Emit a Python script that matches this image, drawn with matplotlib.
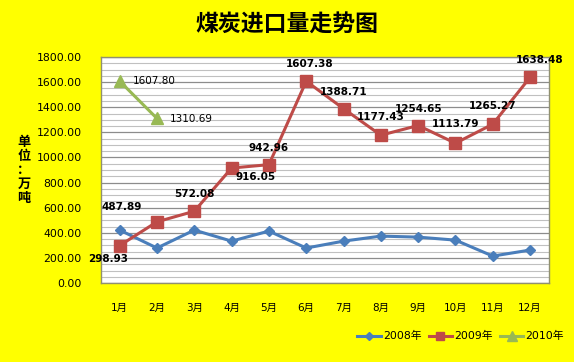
import matplotlib.pyplot as plt
import numpy as np

plt.rcParams['font.family'] = ['DejaVu Sans', 'Noto Sans CJK SC']

months = ['1月', '2月', '3月', '4月', '5月', '6月', '7月', '8月', '9月', '10月', '11月', '12月']
y2008 = [422, 279, 422, 334, 414, 279, 334, 374, 366, 342, 215, 263]
y2009 = [298.93, 487.89, 572.08, 916.05, 942.96, 1607.38, 1388.71, 1177.43,
         1254.65, 1113.79, 1265.27, 1638.48]
y2010 = [1607.80, 1310.69]

# label offsets in pixels (dx, dy) relative to the point
off2009 = [(-12, -13), (-35, 15), (0, 17), (24, -9), (0, 17), (3, 17),
           (0, 17), (0, 18), (0, 17), (0, 19), (0, 18), (10, 17)]
off2010 = [(35, 0), (34, -1)]

x = np.arange(1, 13)

fig = plt.figure(figsize=(5.74, 3.62), dpi=100, facecolor='#FFFF00')
ax = fig.add_axes([0.176, 0.218, 0.78, 0.6245])
ax.set_facecolor('white')

ax.plot(x, y2008, color='#4A7EBB', lw=2.2, marker='D', ms=5.5, label='2008年', zorder=3)
ax.plot(x, y2009, color='#BE4B48', lw=2.2, marker='s', ms=8, label='2009年', zorder=3)
ax.plot(x[:2], y2010, color='#98B954', lw=2.2, marker='^', ms=8.5, label='2010年', zorder=3)

for xi, v, (dx, dy) in zip(x, y2009, off2009):
    ax.annotate(f'{v:.2f}', (xi, v), xytext=(dx, dy), textcoords='offset pixels',
                ha='center', va='center', fontsize=7.5, fontweight='bold', zorder=4)
for xi, v, (dx, dy) in zip(x, y2010, off2010):
    ax.annotate(f'{v:.2f}', (xi, v), xytext=(dx, dy), textcoords='offset pixels',
                ha='center', va='center', fontsize=7.5, zorder=4)

ax.set_xlim(0.5, 12.5)
ax.set_ylim(0, 1800)
ax.set_xticks(x)
ax.set_xticklabels(months, fontsize=7.5)
ax.set_yticks(np.arange(0, 1801, 200))
ax.set_yticklabels([f'{v:.2f}' for v in np.arange(0, 1801, 200)], fontsize=7.8)
ax.set_yticks(np.arange(0, 1801, 50), minor=True)
ax.tick_params(axis='both', length=0, which='both')
ax.tick_params(axis='x', pad=14)
ax.tick_params(axis='y', pad=14)
ax.grid(axis='y', which='minor', color='#C0C0C0', lw=0.8)
ax.grid(axis='y', which='major', color='#8C8C8C', lw=0.9)
ax.set_axisbelow(True)
for s in ax.spines.values():
    s.set_color('#909070')
    s.set_linewidth(1)

fig.text(0.5, 0.93, '煤炭进口量走势图', ha='center', va='center', fontsize=16.5,
         fontweight='bold', family=['Noto Sans CJK SC'])
fig.text(0.042, 0.53, '\n'.join('单位：万吨'), ha='center', va='center', fontsize=9.5,
         fontweight='bold', family=['Noto Sans CJK SC'], linespacing=1.0)

fig.legend(loc='lower right', bbox_to_anchor=(1.0, 0.03), ncol=3, frameon=False,
           fontsize=7.8, handlelength=2.2, handletextpad=0.2, columnspacing=0.6,
           markerscale=0.8)

fig.savefig('out.png', dpi=100, facecolor=fig.get_facecolor())
